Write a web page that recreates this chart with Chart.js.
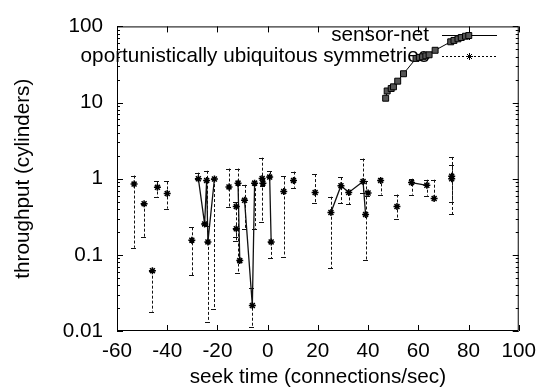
<!DOCTYPE html>
<html>
<head>
<meta charset="utf-8">
<script src="https://cdn.jsdelivr.net/npm/chart.js@4.4.0/dist/chart.umd.min.js"></script>
<style>
  html, body { margin: 0; padding: 0; background: #fff; }
</style>
</head>
<body>
<canvas id="chart" width="544" height="392"></canvas>
<script>
const xTicks = [-60, -40, -20, 0, 20, 40, 60, 80, 100];
const yTicks = [0.01, 0.1, 1, 10, 100];
const yLabels = ['0.01', '0.1', '1', '10', '100'];
const seriesNames = ['sensor-net', 'oportunistically ubiquitous symmetries'];

// sensor-net
const sensorX = [47.0, 47.6, 49.2, 50.1, 51.8, 54.1, 59.1, 60.4, 61.7, 63.0, 64.3, 66.7, 72.9, 74.2, 75.8, 77.1, 78.8, 80.1];
const sensorY = [11.4, 14.2, 15.3, 16.1, 19.1, 23.9, 38.0, 39.2, 39.9, 41.1, 42.4, 48.6, 62.8, 65.5, 68.7, 71.5, 74.3, 75.9];

// oportunistically ubiquitous symmetries (value, error low/high, joined to previous point)
const symX  = [-53.2, -49.2, -45.9, -43.9, -40.0, -30.2, -27.6, -25.1, -24.3, -23.8, -21.2, -15.4, -12.5, -12.5, -11.8, -11.1, -9.2, -6.1, -5.2, -2.2, -1.9, 0.8, 1.4, 6.4, 10.3, 18.9, 25.2, 29.2, 32.3, 38.0, 39.0, 40.0, 45.0, 51.5, 57.3, 63.4, 66.3, 73.3, 73.3];
const symY  = [0.85, 0.47, 0.062, 0.77, 0.64, 0.156, 1.0, 0.255, 0.95, 0.148, 0.99, 0.78, 0.43, 0.22, 0.875, 0.084, 0.52, 0.0216, 0.875, 1.01, 0.875, 1.05, 0.148, 0.68, 0.95, 0.66, 0.36, 0.81, 0.66, 0.92, 0.34, 0.65, 0.95, 0.43, 0.89, 0.82, 0.55, 1.0, 1.08];
const symLo = [0.124, 0.17, 0.018, 0.58, 0.405, 0.054, 1.0, 0.243, 0.24, 0.0132, 0.0196, 0.42, 0.152, 0.17, 0.058, 0.084, 0.22, 0.0114, 0.22, 0.27, 0.8, 1.05, 0.09, 0.095, 0.76, 0.48, 0.067, 0.48, 0.46, 0.65, 0.086, 0.6, 0.62, 0.30, 0.62, 0.60, 0.55, 0.34, 0.5];
const symHi = [1.1, 0.47, 0.062, 0.92, 0.92, 0.23, 1.2, 0.26, 1.27, 0.148, 0.99, 1.36, 0.49, 0.22, 1.36, 0.084, 0.83, 0.037, 0.875, 1.89, 1.0, 1.25, 0.148, 1.07, 1.24, 1.15, 0.58, 1.05, 0.66, 1.84, 0.92, 0.7, 1.01, 0.62, 1.0, 0.97, 0.97, 1.93, 1.5];
const symJoin = [0, 0, 0, 0, 0, 0, 0, 1, 1, 1, 1, 0, 0, 0, 0, 1, 0, 1, 1, 0, 0, 0, 1, 0, 0, 0, 0, 1, 1, 1, 1, 0, 0, 0, 0, 1, 0, 0, 0];

const sensorData = sensorX.map((x, i) => ({ x, y: sensorY[i] }));
const symData = [];
symX.forEach((x, i) => {
  if (i > 0 && !symJoin[i]) symData.push({ x: (symX[i - 1] + x) / 2, y: null });
  symData.push({ x, y: symY[i] });
});

const FONT = '"Liberation Sans", Arial, sans-serif';
Chart.defaults.font.family = FONT;
Chart.defaults.font.size = 20.7;
Chart.defaults.color = '#000';

const gnuplotLook = {
  id: 'gnuplotLook',
  beforeDatasetsDraw(chart) {
    const { ctx, chartArea: a, scales: { x, y } } = chart;
    ctx.save();
    ctx.strokeStyle = '#000';
    ctx.lineWidth = 1;

    // border and ticks
    ctx.beginPath();
    ctx.rect(a.left + 0.5, a.top + 0.5, a.right - a.left - 1, a.bottom - a.top - 1);
    xTicks.forEach(v => {
      const px = Math.round(x.getPixelForValue(v)) + 0.5;
      ctx.moveTo(px, a.bottom); ctx.lineTo(px, a.bottom - 6);
      ctx.moveTo(px, a.top); ctx.lineTo(px, a.top + 6);
    });
    yTicks.forEach((v, i) => {
      for (let m = 1; m < 10; m++) {
        if (m > 1 && i === yTicks.length - 1) break;
        const py = Math.round(y.getPixelForValue(v * m)) + 0.5;
        const len = m === 1 ? 6 : 3;
        ctx.moveTo(a.left, py); ctx.lineTo(a.left + len, py);
        ctx.moveTo(a.right, py); ctx.lineTo(a.right - len, py);
      }
    });
    ctx.stroke();

    // error bars
    ctx.strokeStyle = '#111';
    ctx.setLineDash([3, 2]);
    ctx.beginPath();
    symX.forEach((v, i) => {
      const px = Math.round(x.getPixelForValue(v)) + 0.5;
      const top = y.getPixelForValue(symHi[i]);
      const bot = y.getPixelForValue(symLo[i]);
      ctx.moveTo(px, top); ctx.lineTo(px, bot);
    });
    ctx.stroke();
    ctx.setLineDash([]);
    ctx.beginPath();
    symX.forEach((v, i) => {
      const px = Math.round(x.getPixelForValue(v));
      const top = Math.round(y.getPixelForValue(symHi[i])) + 0.5;
      const bot = Math.round(y.getPixelForValue(symLo[i])) + 0.5;
      ctx.moveTo(px - 3, top); ctx.lineTo(px + 2, top);
      ctx.moveTo(px - 3, bot); ctx.lineTo(px + 2, bot);
    });
    ctx.stroke();

    // legend
    ctx.font = '20.7px ' + FONT;
    ctx.fillStyle = '#000';
    ctx.textAlign = 'right';
    ctx.textBaseline = 'middle';
    ctx.fillText(seriesNames[0], 429, 35);
    ctx.fillText(seriesNames[1], 429, 56);
    ctx.strokeStyle = '#000';
    ctx.beginPath();
    ctx.moveTo(442, 35.5); ctx.lineTo(497, 35.5);
    ctx.moveTo(469.5, 31); ctx.lineTo(469.5, 40);
    ctx.stroke();
    ctx.setLineDash([2, 2]);
    ctx.beginPath();
    ctx.moveTo(442, 56.5); ctx.lineTo(497, 56.5);
    ctx.stroke();
    ctx.setLineDash([]);
    ctx.beginPath();
    ctx.moveTo(466, 56.5); ctx.lineTo(473, 56.5);
    ctx.moveTo(469.5, 53); ctx.lineTo(469.5, 60);
    ctx.moveTo(467, 54); ctx.lineTo(472, 59);
    ctx.moveTo(472, 54); ctx.lineTo(467, 59);
    ctx.stroke();
    ctx.restore();
  }
};

new Chart(document.getElementById('chart'), {
  type: 'scatter',
  data: {
    datasets: [
      {
        label: seriesNames[0],
        data: sensorData,
        showLine: true,
        borderColor: '#000',
        borderWidth: 1,
        pointStyle: 'rect',
        pointRadius: 4.2,
        pointBackgroundColor: '#555',
        pointBorderColor: '#000',
        pointBorderWidth: 1
      },
      {
        label: seriesNames[1],
        data: symData,
        showLine: true,
        spanGaps: false,
        borderColor: '#111',
        borderWidth: 1.3,
        pointStyle: 'star',
        pointRadius: 3.5,
        pointBorderColor: '#000',
        pointBorderWidth: 1.5
      }
    ]
  },
  options: {
    responsive: false,
    animation: false,
    layout: { padding: { top: 20, right: 22, left: 0, bottom: 0 } },
    plugins: { legend: { display: false }, tooltip: { enabled: false } },
    scales: {
      x: {
        type: 'linear',
        min: -60,
        max: 100,
        afterBuildTicks: s => { s.ticks = xTicks.map(v => ({ value: v })); },
        afterFit: s => { s.height = 61; },
        grid: { display: false, drawTicks: false },
        border: { display: false },
        ticks: { padding: 8, maxRotation: 0, callback: v => String(v) },
        title: { display: true, text: 'seek time (connections/sec)', padding: { top: 0, bottom: 2 } }
      },
      y: {
        type: 'logarithmic',
        min: 0.01,
        max: 100,
        afterBuildTicks: s => { s.ticks = yTicks.map(v => ({ value: v })); },
        afterFit: s => { s.width = 117; },
        grid: { display: false, drawTicks: false },
        border: { display: false },
        ticks: { padding: 14, callback: (v, i) => yLabels[i] },
        title: { display: true, text: 'throughput (cylinders)', padding: { top: 11, bottom: 0 } }
      }
    }
  },
  plugins: [gnuplotLook]
});
</script>
</body>
</html>
